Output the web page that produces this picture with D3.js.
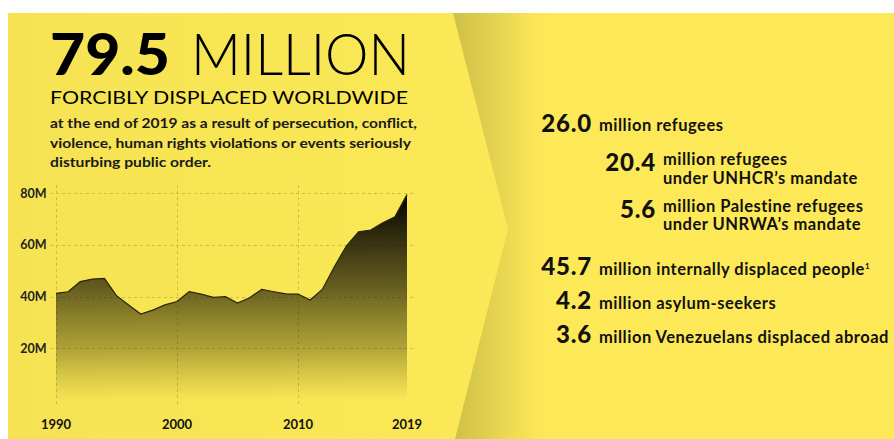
<!DOCTYPE html>
<html>
  <head>
    <meta charset="utf-8">
    <title>79.5 million forcibly displaced worldwide</title>
    <script src="https://d3js.org/d3.v7.min.js"></script>
    <style>
      body { margin: 0; background: #fff; }
      svg { display: block; font-family: Lato, "Open Sans", sans-serif; }
    </style>
  </head>
  <body>
    <svg id="chart" width="894" height="439"></svg>
    <script>
      // data
      years = [1990, 1991, 1992, 1993, 1994, 1995, 1996, 1997, 1998, 1999,
               2000, 2001, 2002, 2003, 2004, 2005, 2006, 2007, 2008, 2009,
               2010, 2011, 2012, 2013, 2014, 2015, 2016, 2017, 2018, 2019];
      displaced = [41.3, 41.9, 45.8, 46.8, 47.1, 40.4, 36.8, 33.3, 34.8, 36.8,
                   38.1, 41.9, 41.0, 39.7, 40.0, 37.5, 39.6, 42.8, 41.9, 41.1,
                   41.0, 38.7, 42.8, 51.6, 59.7, 65.1, 65.8, 68.6, 70.9, 79.5];
      yTicks = [20, 40, 60, 80];
      xTicks = [1990, 2000, 2010, 2019];
      figures = ["26.0", "20.4", "5.6", "45.7", "4.2", "3.6"];
      figureLabels = [
        ["million refugees"],
        ["million refugees", "under UNHCR\u2019s mandate"],
        ["million Palestine refugees", "under UNRWA\u2019s mandate"],
        ["million internally displaced people"],
        ["million asylum-seekers"],
        ["million Venezuelans displaced abroad"]
      ];
      footnotes = ["", "", "", "1", "", ""];

      svg = d3.select("#chart");
      defs = svg.append("defs");

      // background panels
      leftGrad = defs.append("linearGradient").attr("id", "leftGrad")
        .attr("gradientUnits", "userSpaceOnUse")
        .attr("x1", 8).attr("x2", 455).attr("y1", 0).attr("y2", 0);
      leftGrad.append("stop").attr("offset", "0%").attr("stop-color", "#f5e353");
      leftGrad.append("stop").attr("offset", "100%").attr("stop-color", "#fbe856");
      rightGrad = defs.append("linearGradient").attr("id", "rightGrad")
        .attr("gradientUnits", "userSpaceOnUse")
        .attr("x1", 453).attr("x2", 550).attr("y1", 0).attr("y2", 0);
      rightGrad.append("stop").attr("offset", "0%").attr("stop-color", "#cfbf48");
      rightGrad.append("stop").attr("offset", "45%").attr("stop-color", "#e5d450");
      rightGrad.append("stop").attr("offset", "85%").attr("stop-color", "#fae656");
      rightGrad.append("stop").attr("offset", "100%").attr("stop-color", "#fde957");

      svg.append("rect")
        .attr("x", 8).attr("y", 13).attr("width", 886).attr("height", 426)
        .attr("fill", "url(#leftGrad)");
      svg.append("path")
        .attr("d", "M453,13 L508,229 L455,439 L894,439 L894,13 Z")
        .attr("fill", "url(#rightGrad)");

      // headline
      head = svg.append("g");
      head.append("text")
        .attr("x", 50).attr("y", 75)
        .attr("font-size", 58).attr("font-weight", 900)
        .attr("textLength", 120).attr("lengthAdjust", "spacingAndGlyphs")
        .text("79.5");
      head.append("text")
        .attr("x", 191).attr("y", 75)
        .attr("font-size", 58).attr("font-weight", 300)
        .attr("textLength", 219).attr("lengthAdjust", "spacingAndGlyphs")
        .text("MILLION");
      head.append("text")
        .attr("x", 50).attr("y", 103.5)
        .attr("font-size", 16.5).attr("font-weight", 400)
        .attr("textLength", 358).attr("lengthAdjust", "spacingAndGlyphs")
        .text("FORCIBLY DISPLACED WORLDWIDE");
      subLines = [
        "at the end of 2019 as a result of persecution, conflict,",
        "violence, human rights violations or events seriously",
        "disturbing public order."
      ];
      subWidths = [367, 361, 161];
      head.selectAll(".sub").data(subLines).join("text")
        .attr("class", "sub")
        .attr("x", 50)
        .attr("y", function(d, i) { return 128 + i * 19.5; })
        .attr("font-size", 13).attr("font-weight", 700)
        .attr("fill", "#1a1a1a")
        .attr("textLength", function(d, i) { return subWidths[i]; })
        .attr("lengthAdjust", "spacingAndGlyphs")
        .text(function(d) { return d; });

      // area chart
      x = d3.scaleLinear().domain([1990, 2019]).range([56, 407]);
      y = d3.scaleLinear().domain([0, 80]).range([400, 193.3]);
      series = years.map(function(d, i) { return { year: d, value: displaced[i] }; });

      areaGrad = defs.append("linearGradient").attr("id", "areaGrad")
        .attr("gradientUnits", "userSpaceOnUse")
        .attr("x1", 0).attr("x2", 0).attr("y1", y(80)).attr("y2", y(0));
      areaGrad.append("stop").attr("offset", "0%").attr("stop-color", "#000").attr("stop-opacity", 1);
      areaGrad.append("stop").attr("offset", "45%").attr("stop-color", "#1e1b06").attr("stop-opacity", 0.68);
      areaGrad.append("stop").attr("offset", "75%").attr("stop-color", "#3a3408").attr("stop-opacity", 0.38);
      areaGrad.append("stop").attr("offset", "100%").attr("stop-color", "#5a500c").attr("stop-opacity", 0);

      grid = svg.append("g").attr("stroke", "#cdbc47").attr("stroke-dasharray", "3,3")
        .attr("stroke-width", 1);
      grid.selectAll(".hg").data(yTicks).join("line")
        .attr("x1", 50).attr("x2", 414)
        .attr("y1", function(d) { return Math.round(y(d)) + 0.5; })
        .attr("y2", function(d) { return Math.round(y(d)) + 0.5; });
      grid.selectAll(".vg").data(xTicks.slice(0, 3)).join("line")
        .attr("y1", 185).attr("y2", 405)
        .attr("x1", function(d) { return Math.round(x(d)) + 0.5; })
        .attr("x2", function(d) { return Math.round(x(d)) + 0.5; });

      area = d3.area()
        .x(function(d) { return x(d.year); })
        .y0(y(0))
        .y1(function(d) { return y(d.value); });
      line = d3.line()
        .x(function(d) { return x(d.year); })
        .y(function(d) { return y(d.value); });
      svg.append("path").datum(series)
        .attr("d", area)
        .attr("fill", "url(#areaGrad)");
      svg.append("path").datum(series)
        .attr("d", line)
        .attr("fill", "none")
        .attr("stroke", "#2a2608")
        .attr("stroke-width", 1.2);

      // axes labels
      svg.append("g").selectAll("text").data(yTicks).join("text")
        .attr("x", 46.5)
        .attr("y", function(d) { return y(d) + 4.5; })
        .attr("text-anchor", "end")
        .attr("font-size", 12.5).attr("font-weight", 700)
        .attr("fill", "#222")
        .text(function(d) { return d + "M"; });
      svg.append("g").selectAll("text").data(xTicks).join("text")
        .attr("x", function(d) { return x(d); })
        .attr("y", 429)
        .attr("text-anchor", "middle")
        .attr("font-size", 13).attr("font-weight", 700)
        .attr("fill", "#111")
        .text(function(d) { return d; });

      // breakdown on the right
      layout = [
        { anchor: 592, base: 131.5, lines: [131] },
        { anchor: 656, base: 171, lines: [165, 183.5] },
        { anchor: 656, base: 218, lines: [211.5, 230] },
        { anchor: 592, base: 275, lines: [275] },
        { anchor: 592, base: 309, lines: [309] },
        { anchor: 592, base: 342.5, lines: [342.5] }
      ];
      items = svg.append("g").selectAll("g").data(figures).join("g");
      items.append("text")
        .attr("x", function(d, i) { return layout[i].anchor; })
        .attr("y", function(d, i) { return layout[i].base; })
        .attr("text-anchor", "end")
        .attr("font-size", 24).attr("font-weight", 900)
        .attr("letter-spacing", 0.8)
        .attr("fill", "#111")
        .text(function(d) { return d; });
      items.each(function(d, i) {
        lab = d3.select(this).append("text")
          .attr("font-size", 16.5).attr("font-weight", 700)
          .attr("letter-spacing", 0.5)
          .attr("fill", "#111");
        figureLabels[i].forEach(function(t, j) {
          lab.append("tspan")
            .attr("x", layout[i].anchor + 7)
            .attr("y", layout[i].lines[j])
            .text(t);
        });
        if (footnotes[i]) {
          lab.append("tspan")
            .attr("dy", -6)
            .attr("font-size", 8)
            .text(footnotes[i]);
        }
      });
    </script>
  </body>
</html>
